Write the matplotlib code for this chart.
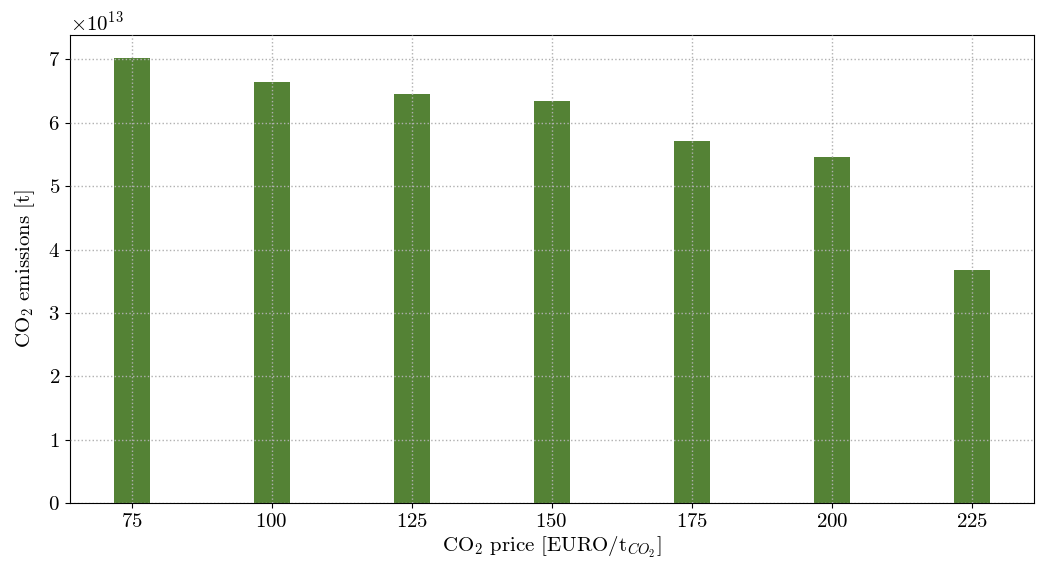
import matplotlib
matplotlib.use("Agg")
import matplotlib.pyplot as plt

prices = [75, 100, 125, 150, 175, 200, 225]
emissions = [7.03e13, 6.65e13, 6.46e13, 6.35e13, 5.71e13, 5.455e13, 3.67e13]

plt.rcParams['font.family'] = ['cmr10', 'DejaVu Serif']
plt.rcParams['mathtext.fontset'] = 'cm'
plt.rcParams['axes.formatter.use_mathtext'] = True
plt.rcParams['font.size'] = 15

fig, ax = plt.subplots(figsize=(10.4, 5.69), dpi=100)
ax.bar(prices, emissions, width=6.5, color='#548235', zorder=1)
ax.set_xticks(prices)
ax.grid(True, linestyle=':', color='#b0b0b0', linewidth=1.0, zorder=2)
ax.set_axisbelow(False)
ax.set_xlabel(r'CO$_2$ price [EURO/t$_{CO_2}$]', labelpad=3)
ax.set_ylabel(r'CO$_2$ emissions [t]', labelpad=8)
ax.ticklabel_format(axis='y', style='sci', scilimits=(0, 0), useMathText=True)
fig.subplots_adjust(left=0.067, right=0.994, top=0.938, bottom=0.116)
fig.savefig('out.png', dpi=100)
